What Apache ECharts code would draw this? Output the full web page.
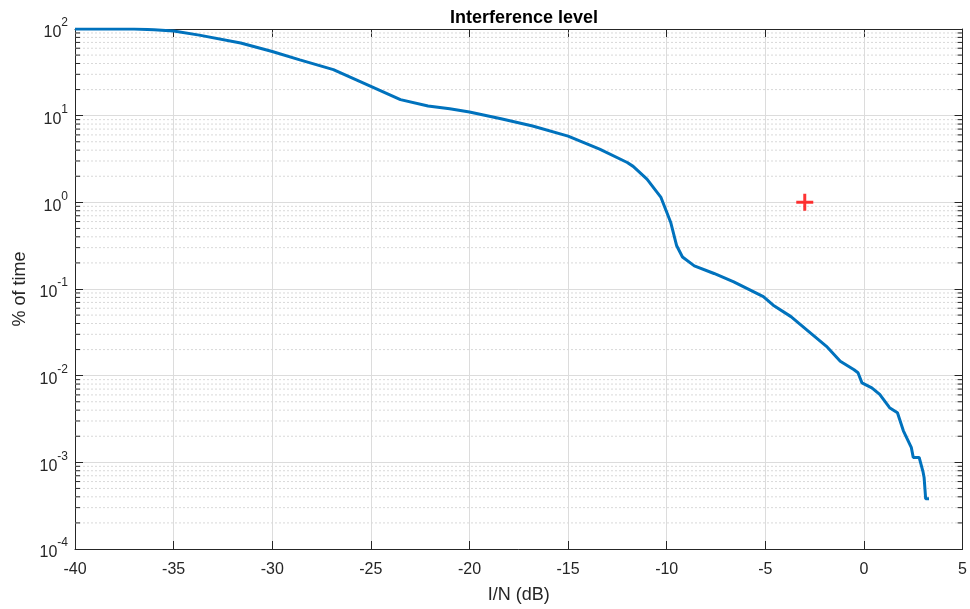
<!DOCTYPE html>
<html>
<head>
<meta charset="utf-8">
<script src="https://cdn.jsdelivr.net/npm/echarts@6/dist/echarts.min.js"></script>
<style>
  html, body { margin: 0; padding: 0; background: #fff; }
  #chart { width: 970px; height: 609px; }
</style>
</head>
<body>
<div id="chart"></div>
<script>
// Interference-to-noise ratio (dB) versus percentage of time exceeded
const inDb = [-40, -38.5, -37, -36, -35, -33.7, -31.6, -30, -28.6, -26.9, -25, -23.5, -22.1, -21, -20,
  -18.4, -16.8, -15, -13.4, -12, -11.7, -11, -10.3, -9.8, -9.5, -9.2, -8.6, -7.6, -6.6, -5.1, -4.6,
  -3.7, -2.9, -1.9, -1.2, -0.5, -0.3, -0.1, 0.4, 0.8, 1.3, 1.7, 2.0, 2.4, 2.5, 2.8, 3.0, 3.05, 3.13, 3.3];
const pctTime = [100, 100, 100, 98, 95, 85, 69, 55, 44, 34, 21.8, 15.3, 12.9, 12.0, 11.0,
  9.2, 7.6, 5.8, 4.1, 2.88, 2.6, 1.85, 1.15, 0.59, 0.318, 0.234, 0.185, 0.151, 0.121, 0.0816, 0.065,
  0.048, 0.0338, 0.0218, 0.0147, 0.0117, 0.0108, 0.00826, 0.00724, 0.00607, 0.00427, 0.00374, 0.00231,
  0.00149, 0.00114, 0.00114, 0.00077, 0.00067, 0.000379, 0.000379];

// Protection criterion marker
const criterionPoint = [-3, 1];

// Axis ranges and ticks
const xTicks = [-40, -35, -30, -25, -20, -15, -10, -5, 0, 5];
const yDecades = [-4, -3, -2, -1, 0, 1];
const minorSteps = [2, 3, 4, 5, 6, 7, 8, 9];

const minorValues = [];
yDecades.forEach(d => minorSteps.forEach(m => minorValues.push([m * Math.pow(10, d)])));

const FONT = '"Liberation Sans", Arial, Helvetica, sans-serif';
const AX = '#262626';

const chart = echarts.init(document.getElementById('chart'), null, { renderer: 'canvas' });

const frameAxis = {
  axisLine: { show: true, onZero: false, lineStyle: { color: AX, width: 1 } },
  axisTick: { show: true, inside: true, length: 8, lineStyle: { color: AX } }
};

const option = {
  backgroundColor: '#ffffff',
  animation: false,
  title: {
    text: 'Interference level',
    left: 519, top: 4, textAlign: 'center',
    textStyle: { fontFamily: FONT, fontSize: 18, fontWeight: 'bold', color: '#000' }
  },
  grid: { left: 75, right: 7, top: 29, bottom: 57, containLabel: false },
  xAxis: [Object.assign({
    type: 'value', min: xTicks[0], max: xTicks[xTicks.length - 1], interval: 5,
    name: 'I/N (dB)', nameLocation: 'middle', nameGap: 37,
    nameTextStyle: { fontFamily: FONT, fontSize: 18, color: AX },
    axisLabel: { fontFamily: FONT, fontSize: 16, color: AX, margin: 13 },
    splitLine: { show: true, lineStyle: { color: '#dcdcdc', width: 1 } }
  }, frameAxis), Object.assign({
    type: 'value', position: 'top', min: xTicks[0], max: xTicks[xTicks.length - 1], interval: 5,
    axisLabel: { show: false }, splitLine: { show: false }
  }, frameAxis)],
  yAxis: [Object.assign({
    type: 'log', logBase: 10, min: 1e-4, max: 100, position: 'left',
    name: '% of time', nameLocation: 'middle', nameGap: 46, nameRotate: 90,
    nameTextStyle: { fontFamily: FONT, fontSize: 18, color: AX },
    axisLabel: {
      margin: 7,
      formatter: v => '{b|10}{s|' + Math.round(Math.log10(v)) + '}',
      rich: {
        b: { fontFamily: FONT, fontSize: 16, color: AX, verticalAlign: 'bottom', lineHeight: 24 },
        s: { fontFamily: FONT, fontSize: 12, color: AX, verticalAlign: 'top', lineHeight: 24 }
      }
    },
    splitLine: { show: true, lineStyle: { color: '#dcdcdc', width: 1 } }
  }, frameAxis), Object.assign({
    type: 'log', logBase: 10, min: 1e-4, max: 100, position: 'right',
    axisLabel: { show: false }, splitLine: { show: false }
  }, frameAxis)],
  series: [{
    // minor decade gridlines and tick marks on both vertical axes
    type: 'custom', silent: true, xAxisIndex: 0, yAxisIndex: 0, z: 1,
    data: minorValues,
    renderItem: (params, api) => {
      const v = api.value(0);
      const pL = api.coord([xTicks[0], v]);
      const pR = api.coord([xTicks[xTicks.length - 1], v]);
      return {
        type: 'group',
        children: [
          { type: 'line', shape: { x1: pL[0], y1: pL[1], x2: pR[0], y2: pR[1] },
            style: { stroke: '#d9d9d9', lineWidth: 1, lineDash: [2, 2] } },
          { type: 'line', shape: { x1: pL[0], y1: pL[1], x2: pL[0] + 5, y2: pL[1] },
            style: { stroke: AX, lineWidth: 1 } },
          { type: 'line', shape: { x1: pR[0] - 5, y1: pR[1], x2: pR[0], y2: pR[1] },
            style: { stroke: AX, lineWidth: 1 } }
        ]
      };
    }
  }, {
    type: 'line', xAxisIndex: 0, yAxisIndex: 0, z: 3,
    data: inDb.map((x, i) => [x, pctTime[i]]),
    showSymbol: false, symbol: 'none', smooth: false,
    lineStyle: { color: '#0072BD', width: 3 }
  }, {
    type: 'scatter', xAxisIndex: 0, yAxisIndex: 0, z: 4,
    data: [criterionPoint],
    symbol: 'path://M6.6,0h2.8v16h-2.8zM0,6.6h16v2.8h-16z',
    symbolSize: 17,
    itemStyle: { color: '#ff0000' }
  }]
};

chart.setOption(option);
</script>
</body>
</html>
